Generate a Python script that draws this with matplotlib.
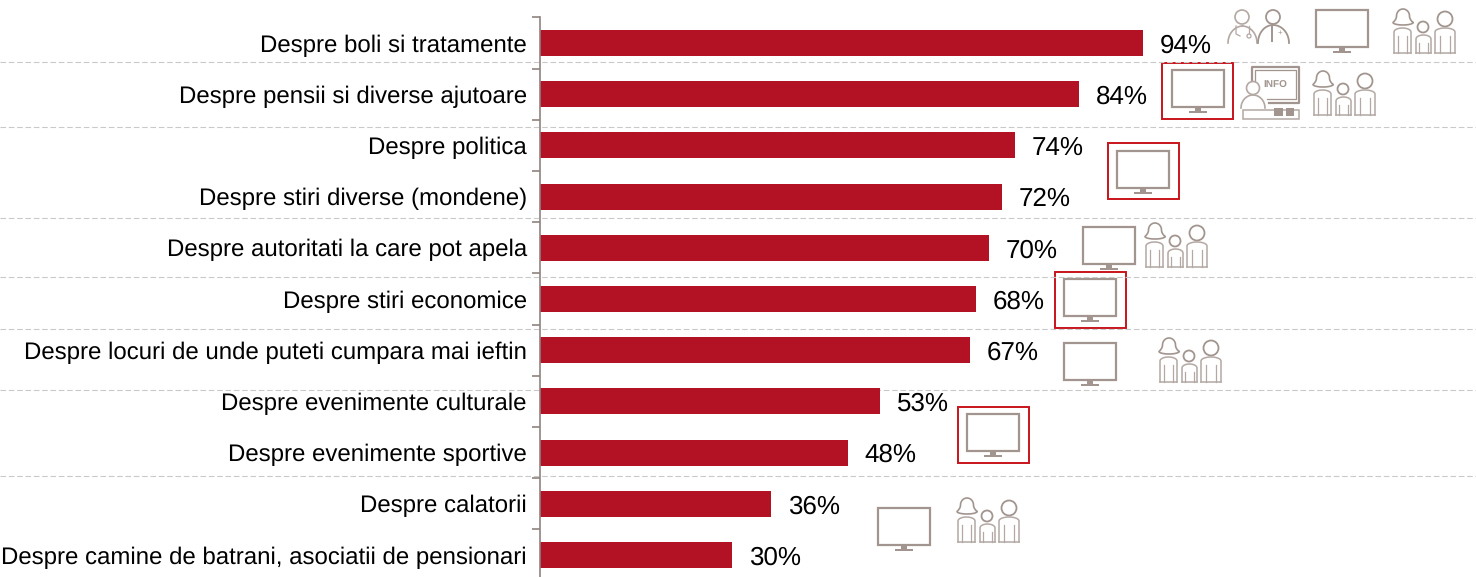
import numpy as np
import matplotlib
matplotlib.use('Agg')
import matplotlib.pyplot as plt
from matplotlib.patches import Rectangle, Circle

plt.rcParams['font.family'] = ['Liberation Sans', 'DejaVu Sans']
plt.rcParams['text.hinting'] = 'no_hinting'
plt.rcParams['text.hinting_factor'] = 1

# data
topics = ['Despre boli si tratamente', 'Despre pensii si diverse ajutoare', 'Despre politica',
          'Despre stiri diverse (mondene)', 'Despre autoritati la care pot apela',
          'Despre stiri economice', 'Despre locuri de unde puteti cumpara mai ieftin',
          'Despre evenimente culturale', 'Despre evenimente sportive', 'Despre calatorii',
          'Despre camine de batrani, asociatii de pensionari']
values = [94, 84, 74, 72, 70, 68, 67, 53, 48, 36, 30]

# separators and icons, in picture pixels
separator_y = [62, 127, 218, 277, 329, 390, 476]
monitors = [(1316, 10), (1172, 70), (1117, 151), (1083, 227), (1064, 279), (1064, 343), (967, 414), (878, 508)]
families = [(1393, 9), (1313, 71), (1145, 223), (1159, 338), (957, 498)]
red_boxes = [(1162, 63), (1108, 143), (1055, 272), (958, 407)]

BAR = '#b31224'
AXIS = '#8f8481'
ICON = '#a2958f'
ICON_LIGHT = '#b3a8a3'

W, H = 1476, 577
fig = plt.figure(figsize=(W / 100, H / 100), dpi=100)

# ===== overlay for separators and icons, sits under the bars =====
ov = fig.add_axes([0, 0, 1, 1], facecolor='none', zorder=1)
ov.set_xlim(0, W)
ov.set_ylim(H, 0)
ov.axis('off')

# ===== bars =====
ax = fig.add_axes([540 / W, 0, 1 - 540 / W, 1], facecolor='none', zorder=2)
ypos = np.arange(len(values))
ax.barh(ypos, values, height=0.51, color=BAR)
ax.set_xlim(0, (W - 540) / 6.415)
ax.set_ylim((H - 43) / 51.2, -43 / 51.2)
for y, v in zip(ypos, values):
    ax.annotate(f'{v}%', (v, y), xytext=(12, -2), textcoords='offset points', va='center', ha='left',
                fontsize=18.9, color='black')
for s in ['top', 'right', 'bottom']:
    ax.spines[s].set_visible(False)
ax.spines['left'].set_color(AXIS)
ax.spines['left'].set_linewidth(1.2)
ax.spines['left'].set_bounds(-0.5, (H - 43) / 51.2)
ax.xaxis.set_visible(False)
ax.set_yticks(ypos - 0.5)
ax.set_yticklabels([])
ax.tick_params(axis='y', direction='out', length=5.5, width=1.2, color=AXIS)
ax.set_yticks(ypos, minor=True)
ax.set_yticklabels(topics, minor=True, fontsize=17.3, color='black')
ax.tick_params(axis='y', which='minor', length=0, pad=9.5)

for y in separator_y:
    ov.plot([0, W], [y, y], color='#c9c9c9', lw=0.8, dashes=(5, 2.5))


def monitor(x, y):
    ov.add_patch(Rectangle((x, y), 52, 37, fill=False, ec=ICON, lw=1.6))
    ov.add_patch(Rectangle((x + 23, y + 37), 6, 4, color=ICON, lw=0))
    ov.add_patch(Rectangle((x + 17, y + 40.5), 18, 2.5, color=ICON, lw=0))


def body(x0, x1, y0, y1, inset=4):
    t = np.linspace(np.pi, 0, 20)
    r = (x1 - x0) / 2
    bx = (x0 + x1) / 2 + r * np.cos(t)
    by = y0 + 4 - 4 * np.sin(t)
    ov.plot(np.r_[x0, bx, x1], np.r_[y1, by, y1], color=ICON_LIGHT, lw=1.1)
    ov.plot([x0, x1], [y1, y1], color=ICON_LIGHT, lw=1.1)
    ov.plot([x0 + inset] * 2, [y0 + 8, y1], color=ICON_LIGHT, lw=0.9)
    ov.plot([x1 - inset] * 2, [y0 + 8, y1], color=ICON_LIGHT, lw=0.9)


def family(x, y):
    # woman with bell shaped hair
    t = np.linspace(np.pi, 0, 24)
    dome_x = x + 10 + 6.5 * np.cos(t)
    dome_y = y + 7 - 7 * np.sin(t)
    s = np.linspace(0, 1, 10)
    flare_x = x + 3.5 - 3.5 * s ** 2
    flare_y = y + 7 + 6.5 * s
    low = np.linspace(0, np.pi, 16)
    low_x = x + 10 + 10 * np.cos(low)
    low_y = y + 13.5 + 2.5 * np.sin(low)
    hx = np.r_[low_x, flare_x[::-1], dome_x, (2 * x + 20 - flare_x)]
    hy = np.r_[low_y, flare_y[::-1], dome_y, flare_y]
    ov.plot(hx, hy, color=ICON, lw=1.2)
    body(x + 1, x + 18, y + 19, y + 44)
    # child
    ov.add_patch(Circle((x + 30, y + 18), 5.5, fill=False, ec=ICON, lw=1.3))
    body(x + 23, x + 38, y + 26, y + 44, inset=3)
    # man
    ov.add_patch(Circle((x + 52, y + 10), 7.5, fill=False, ec=ICON, lw=1.3))
    body(x + 42, x + 62, y + 19, y + 44, inset=5)


def doctor(x, y):
    ov.add_patch(Circle((x + 14, y + 8), 7, fill=False, ec=ICON_LIGHT, lw=1.2))
    ov.add_patch(Circle((x + 45, y + 8), 7, fill=False, ec=ICON, lw=1.3))
    t = np.linspace(np.pi, np.pi / 2, 15)
    ov.plot(x + 15 + 15 * np.cos(t), y + 34 - 17 * np.sin(t), color=ICON_LIGHT, lw=1.2)
    ov.plot(x + 14 - 15 * np.cos(t), y + 34 - 17 * np.sin(t), color=ICON_LIGHT, lw=1.2)
    ov.plot(x + 45 + 15 * np.cos(t), y + 34 - 18 * np.sin(t), color=ICON, lw=1.3)
    ov.plot(x + 45 - 16 * np.cos(t), y + 34 - 18 * np.sin(t), color=ICON, lw=1.3)
    ov.plot([x + 44, x + 44], [y + 18, y + 32], color=ICON, lw=1.4)
    ov.plot([x + 8, x + 8, x + 12], [y + 17, y + 25, y + 27], color=ICON_LIGHT, lw=0.9)
    ov.plot([x + 21, x + 21], [y + 17, y + 24], color=ICON_LIGHT, lw=0.9)
    ov.add_patch(Circle((x + 21, y + 27), 2, fill=False, ec=ICON_LIGHT, lw=0.9))
    ov.text(x + 52, y + 24, '+', fontsize=6, color=ICON, ha='center', va='center')


def info_desk(x, y):
    ov.plot([x + 11, x + 11, x + 58, x + 58, x + 28], [y + 16, y, y, y + 36, y + 36], color=ICON, lw=1.6)
    ov.plot([x + 14, x + 14, x + 55, x + 55, x + 26], [y + 16, y + 3, y + 3, y + 32, y + 32], color=ICON, lw=0.9)
    ov.text(x + 34, y + 18, 'INFO', fontsize=7.5, fontweight='bold', color=ICON, ha='center', va='center')
    ov.add_patch(Circle((x + 12, y + 21), 6.5, fc='white', ec=ICON_LIGHT, lw=1.2, zorder=3))
    t = np.linspace(np.pi, 0, 20)
    ov.plot(x + 12 + 12 * np.cos(t), y + 41 - 13 * np.sin(t), color=ICON_LIGHT, lw=1.2)
    ov.add_patch(Rectangle((x + 2, y + 43), 56, 9, fill=False, ec=ICON_LIGHT, lw=1.1))
    ov.add_patch(Rectangle((x + 33, y + 41), 8.5, 8, color=ICON, lw=0))
    ov.add_patch(Rectangle((x + 45, y + 41), 7.5, 8, color=ICON, lw=0))


for bx, by in red_boxes:
    ov.add_patch(Rectangle((bx, by), 71, 56, fill=False, ec='#c8141c', lw=1.4))
for mx, my in monitors:
    monitor(mx, my)
for fx, fy in families:
    family(fx, fy)
doctor(1228, 9)
info_desk(1241, 67)

fig.savefig('out.png', dpi=100)
